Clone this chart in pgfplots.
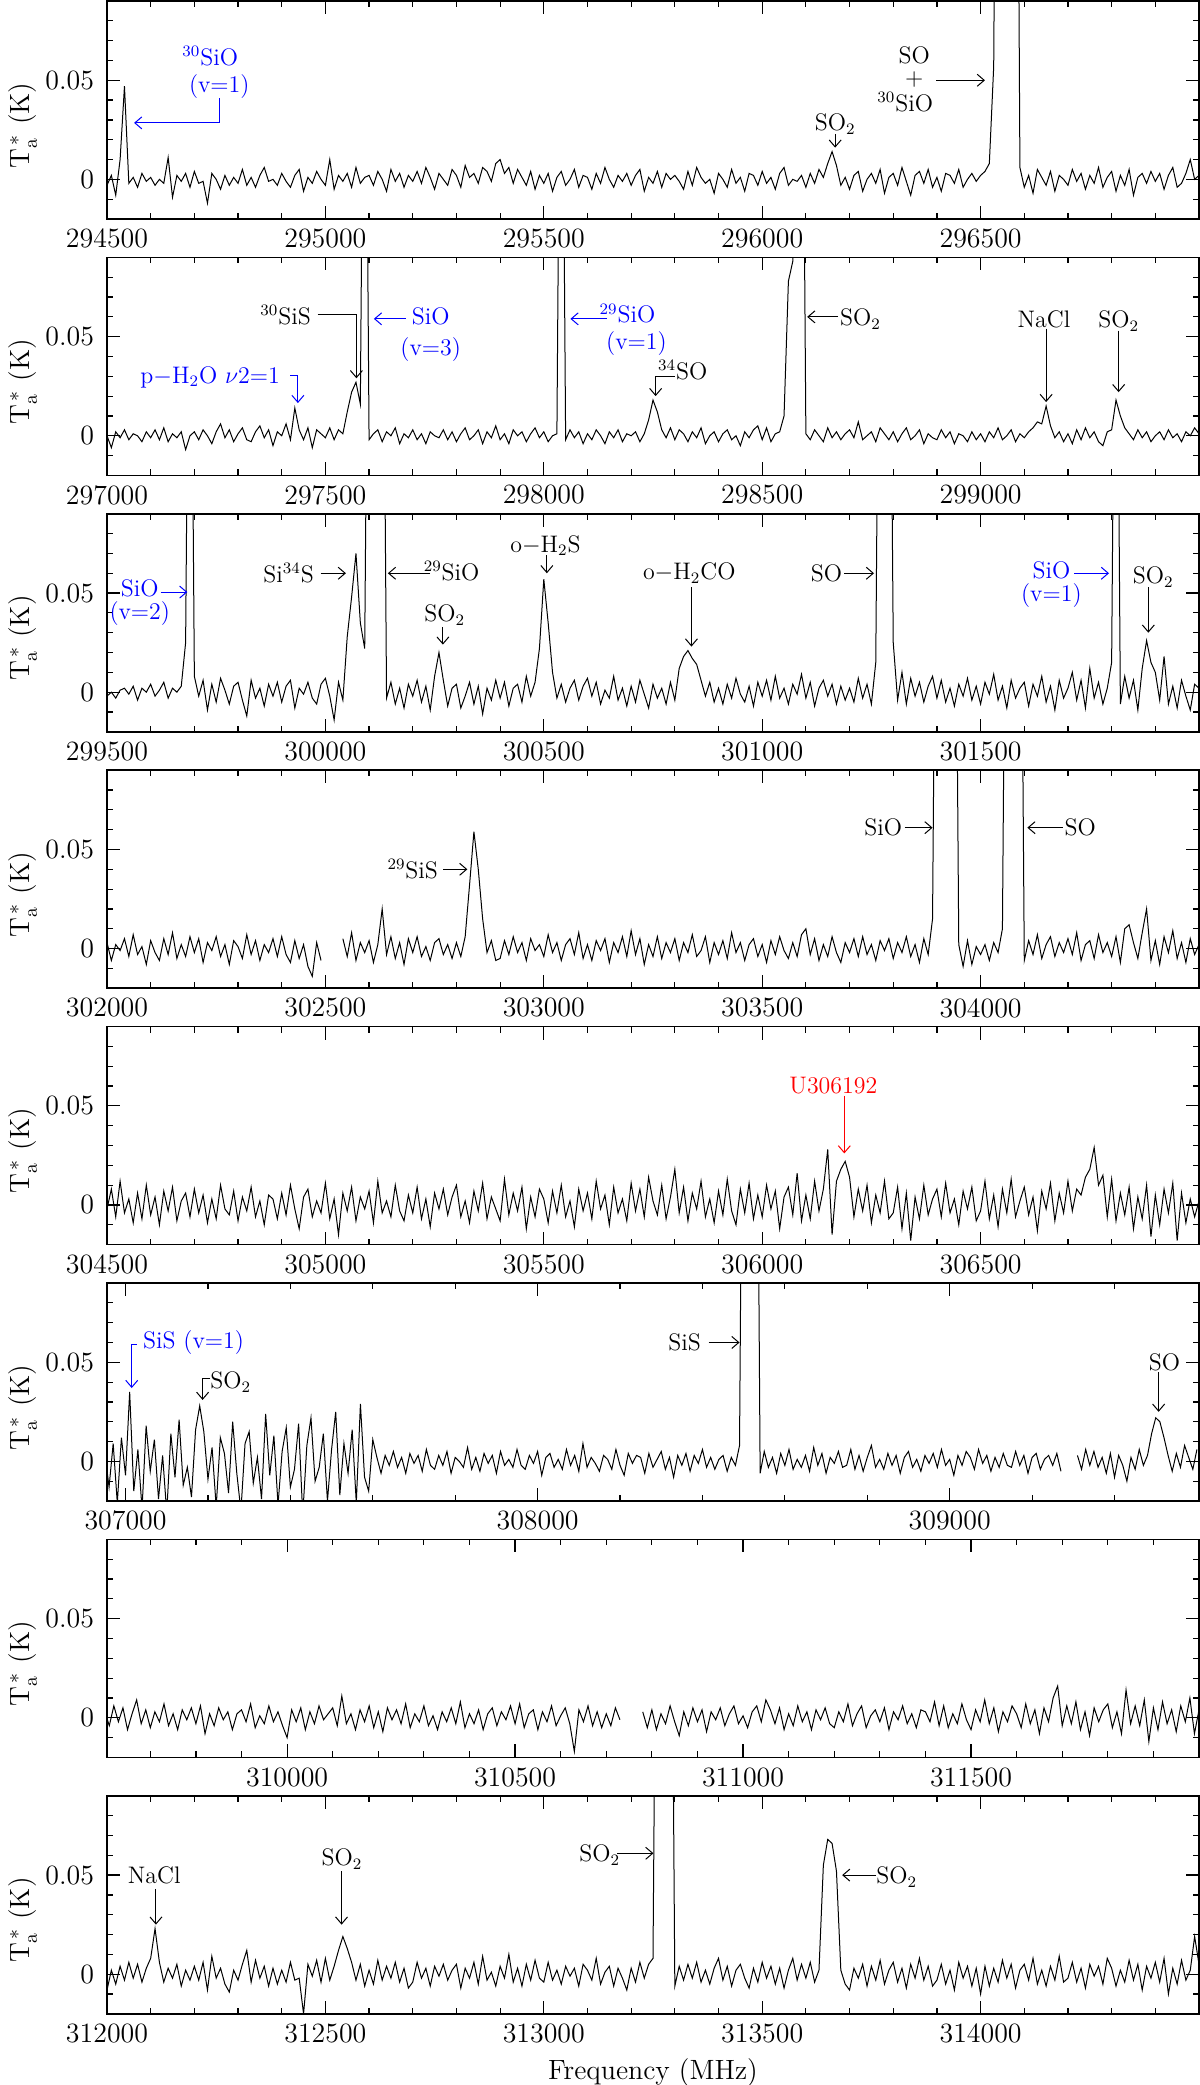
\documentclass[border=0pt]{standalone}
\usepackage{fontspec}
\usepackage{pgfplots}
\pgfplotsset{compat=1.18}
\usetikzlibrary{arrows.meta}

\pgfplotsset{
  panel/.style={
    width=546bp, height=109bp, scale only axis,
    anchor=north west,
    ymin=-20, ymax=90,
    ytick={0,50}, yticklabels={0,0.05},
    minor ytick={-10,10,20,30,40,60,70,80},
    tick align=inside,
    major tick length=6.5bp, minor tick length=3bp,
    every tick/.append style={line width=0.6bp, black},
    axis line style={line width=0.8bp},
    tick label style={font=\fontsize{14}{16}\selectfont},
    xticklabel style={yshift=-1.5bp},
    yticklabel style={xshift=-3bp},
    scaled x ticks=false,
    every axis y label/.style={at={(axis description cs:-0.077,0.43)},rotate=90,anchor=center,inner sep=0pt,font=\fontsize{14}{16}\selectfont},
    ylabel={T$_{\mathrm{a}}^{\,*}$\ (K)},
    unbounded coords=jump,
    clip mode=individual,
  },
  spec/.style={black, line width=0.5bp, sharp plot, no markers},
}

\begin{document}
\begin{tikzpicture}[lbl/.style={font=\fontsize{12}{14}\selectfont, inner sep=0pt},
  ar/.style={-{Straight Barb[length=3.5bp,width=6bp]}, line width=0.5bp}]
\useasboundingbox (0,0) rectangle (600bp,-1042.5bp);

% ---------------- Panel 1 ----------------
\begin{axis}[panel, at={(53.5bp,-0.5bp)}, xmin=294500, xmax=297000,
  xtick={294500,295000,295500,296000,296500},
  xticklabels={294500,295000,295500,296000,296500},
  minor xtick={294600,294700,294800,294900,295100,295200,295300,295400,295600,295700,295800,295900,296100,296200,296300,296400,296600,296700,296800,296900}]
\addplot[spec] table[row sep=\\, header=false, x expr=294500+10*\coordindex, y index=0] {
-3\\ 2\\ -8\\ 10\\ 47\\ -2\\ 1\\ -4\\ 3\\ -1\\
1\\ -3\\ 0\\ -2\\ 11\\ -9\\ 2\\ -1\\ 3\\ -4\\
4\\ -2\\ -1\\ -12\\ 3\\ 0\\ -5\\ 2\\ -3\\ 1\\
-2\\ 5\\ -3\\ 1\\ -4\\ 2\\ 6\\ -1\\ 0\\ -3\\
3\\ -1\\ -4\\ 2\\ 5\\ -6\\ 1\\ -2\\ 4\\ 0\\
-3\\ 10\\ -5\\ 2\\ -1\\ 3\\ -4\\ 6\\ -2\\ 1\\
2\\ -3\\ 4\\ 0\\ -6\\ 5\\ -1\\ 3\\ -4\\ 2\\
-1\\ 4\\ -2\\ 6\\ 1\\ -5\\ 3\\ 0\\ -3\\ 5\\
2\\ -4\\ 7\\ 1\\ 3\\ -2\\ 6\\ 4\\ -1\\ 8\\
10\\ 3\\ 6\\ -2\\ 5\\ 1\\ -3\\ 4\\ -5\\ 2\\
-2\\ 3\\ -6\\ 1\\ 4\\ -3\\ 0\\ 5\\ -4\\ 2\\
1\\ -5\\ 3\\ -2\\ 6\\ 0\\ -4\\ 2\\ -1\\ 3\\
-3\\ 2\\ 5\\ -6\\ 1\\ -2\\ 4\\ -4\\ 3\\ 0\\
2\\ -1\\ -5\\ 4\\ -3\\ 6\\ 1\\ -2\\ 0\\ -7\\
3\\ 0\\ -4\\ 5\\ -2\\ 1\\ -6\\ 3\\ 2\\ -3\\
4\\ -2\\ 1\\ -5\\ 3\\ 6\\ -3\\ 0\\ -1\\ 2\\
-4\\ 3\\ -2\\ 5\\ 1\\ 8\\ 14\\ 7\\ -3\\ 1\\
-5\\ 2\\ 4\\ -6\\ 0\\ 3\\ -2\\ 5\\ -7\\ 1\\
3\\ -3\\ 6\\ -1\\ -8\\ 2\\ 4\\ -2\\ 5\\ -4\\
1\\ -6\\ 3\\ 2\\ -2\\ 5\\ -4\\ 0\\ 3\\ -1\\
2\\ 4\\ 8\\ 57\\ 400\\ 400\\ 400\\ 400\\ 400\\ 6\\
-4\\ 2\\ -7\\ 5\\ 1\\ -3\\ 4\\ -6\\ 2\\ 0\\
-3\\ 5\\ -1\\ 3\\ -5\\ 2\\ -2\\ 6\\ -4\\ 1\\
4\\ -6\\ 2\\ -3\\ 5\\ -8\\ 1\\ 3\\ -2\\ 4\\
-1\\ 3\\ -5\\ 2\\ 6\\ -4\\ -2\\ 3\\ 10\\ 0\\
2\\
};
\node[lbl,blue,align=center] at (axis cs:294757,54) {\llap{$^{30}$}SiO\\[-0.5bp](v$=$1)};
\draw[ar,blue] (axis cs:294758,41) -- (axis cs:294758,28.5) -- (axis cs:294562,28.5);
\node[lbl,align=center] at (axis cs:296348,50.5) {SO\\[-3bp]+\\[-1bp]\llap{$^{30}$}SiO};
\draw[ar] (axis cs:296398,50) -- (axis cs:296510,50);
\node[lbl] at (axis cs:296167,28) {SO$_2$};
\draw[ar] (axis cs:296167,23) -- (axis cs:296167,16);
\end{axis}

% ---------------- Panel 2 ----------------
\begin{axis}[panel, at={(53.5bp,-128.7bp)}, xmin=297000, xmax=299500,
  xtick={297000,297500,298000,298500,299000},
  xticklabels={297000,297500,298000,298500,299000},
  minor xtick={297100,297200,297300,297400,297600,297700,297800,297900,298100,298200,298300,298400,298600,298700,298800,298900,299100,299200,299300,299400}]
\addplot[spec] table[row sep=\\, header=false, x expr=297000+10*\coordindex, y index=0] {
0\\ -6\\ 2\\ -1\\ 3\\ -2\\ 1\\ 0\\ -3\\ 2\\
-1\\ 3\\ -2\\ 4\\ -3\\ 1\\ -1\\ 2\\ -7\\ 0\\
2\\ -2\\ 3\\ 0\\ -4\\ 2\\ 6\\ -1\\ 3\\ -3\\
1\\ 4\\ -2\\ -3\\ 2\\ 5\\ -1\\ 3\\ -5\\ 2\\
0\\ 6\\ -2\\ 14\\ 3\\ -2\\ 4\\ -6\\ 3\\ 1\\
-1\\ 4\\ -2\\ 3\\ 1\\ 12\\ 22\\ 27\\ 16\\ 300\\
-2\\ 1\\ 3\\ -3\\ 2\\ 0\\ 4\\ -4\\ 1\\ -1\\
3\\ -2\\ 1\\ -4\\ 2\\ 0\\ -1\\ 3\\ -2\\ 2\\
-3\\ 1\\ 4\\ -2\\ 0\\ 3\\ -4\\ 2\\ -1\\ 5\\
-2\\ 1\\ -4\\ 3\\ 0\\ 2\\ -3\\ 1\\ 4\\ -1\\
2\\ -3\\ 0\\ 1\\ 300\\ -2\\ 3\\ -1\\ 2\\ -4\\
1\\ -2\\ 3\\ 0\\ -4\\ 2\\ -1\\ 3\\ -3\\ 1\\
0\\ 2\\ -3\\ 1\\ 8\\ 18\\ 12\\ 3\\ -1\\ 4\\
-2\\ 3\\ 1\\ -3\\ 2\\ -1\\ 4\\ -4\\ 0\\ 2\\
-3\\ 1\\ 3\\ -2\\ 0\\ -5\\ 2\\ -1\\ 3\\ 5\\
-2\\ 4\\ -3\\ 1\\ 2\\ 10\\ 78\\ 88\\ 300\\ 300\\
1\\ -2\\ 3\\ 0\\ -3\\ 4\\ -1\\ 2\\ -2\\ 1\\
3\\ -1\\ 7\\ -2\\ 0\\ 2\\ -3\\ 4\\ 1\\ -2\\
2\\ -3\\ 1\\ 4\\ -2\\ 0\\ 3\\ -4\\ 1\\ -1\\
-2\\ 3\\ -1\\ 2\\ -4\\ 1\\ 0\\ -3\\ 2\\ -2\\
1\\ -3\\ 2\\ -1\\ 4\\ -2\\ 0\\ 3\\ -3\\ 1\\
-1\\ 2\\ 4\\ 7\\ 6\\ 15\\ 5\\ -1\\ 2\\ -3\\
1\\ -4\\ 3\\ -2\\ 4\\ -1\\ 2\\ -3\\ -5\\ 2\\
3\\ 18\\ 10\\ 4\\ 1\\ -2\\ 3\\ -1\\ 2\\ -3\\
0\\ 2\\ -2\\ 3\\ -1\\ 1\\ -3\\ 2\\ 0\\ 4\\
1\\
};
\node[lbl,blue] at (axis cs:297236,29.5) {p$-$H$_2$O $\nu$2$=$1};
\draw[ar,blue] (axis cs:297420,30.5) -- (axis cs:297437,30.5) -- (axis cs:297437,16.5);
\node[lbl] at (axis cs:297409,61) {$^{30}$SiS};
\draw[ar] (axis cs:297482,61) -- (axis cs:297571,61) -- (axis cs:297571,29);
\draw[ar,blue] (axis cs:297684,59) -- (axis cs:297611,59);
\node[lbl,blue,align=center] at (axis cs:297741,51) {SiO\\[1.5bp](v$=$3)};
\draw[ar,blue] (axis cs:298144,59) -- (axis cs:298061,59);
\node[lbl,blue,align=center] at (axis cs:298212,53.5) {\llap{$^{29}$}SiO\\[-0.5bp](v$=$1)};
\node[lbl] at (axis cs:298318,33) {$^{34}$SO};
\draw[ar] (axis cs:298300,30) -- (axis cs:298256,30) -- (axis cs:298256,20);
\draw[ar] (axis cs:298674,60) -- (axis cs:298603,60);
\node[lbl] at (axis cs:298725,59) {SO$_2$};
\node[lbl] at (axis cs:299145,58.5) {NaCl};
\draw[ar] (axis cs:299150,54) -- (axis cs:299150,17);
\node[lbl] at (axis cs:299316,58) {SO$_2$};
\draw[ar] (axis cs:299316,53) -- (axis cs:299316,22);
\end{axis}

% ---------------- Panel 3 ----------------
\begin{axis}[panel, at={(53.5bp,-256.9bp)}, xmin=299500, xmax=302000,
  xtick={299500,300000,300500,301000,301500},
  xticklabels={299500,300000,300500,301000,301500},
  minor xtick={299600,299700,299800,299900,300100,300200,300300,300400,300600,300700,300800,300900,301100,301200,301300,301400,301600,301700,301800,301900}]
\addplot[spec] table[row sep=\\, header=false, x expr=299500+10*\coordindex, y index=0] {
-2\\ 0\\ -3\\ 1\\ 2\\ -1\\ 3\\ -4\\ 2\\ 0\\
4\\ -2\\ 1\\ 5\\ -3\\ 2\\ 0\\ 3\\ 25\\ 300\\
8\\ -2\\ 6\\ -9\\ 4\\ -5\\ 7\\ 1\\ -6\\ 3\\
5\\ -4\\ -12\\ 6\\ -3\\ 2\\ -7\\ 4\\ -2\\ 5\\
-5\\ 3\\ 6\\ -8\\ 2\\ -1\\ 5\\ -3\\ -6\\ 4\\
7\\ -2\\ -14\\ 5\\ -4\\ 28\\ 48\\ 70\\ 35\\ 22\\
300\\ 300\\ 300\\ 300\\ -3\\ 5\\ -6\\ 2\\ -8\\ 4\\
-2\\ 6\\ -5\\ 3\\ -9\\ 8\\ 20\\ 6\\ -7\\ 2\\
4\\ -8\\ -2\\ 5\\ -6\\ 3\\ -11\\ 2\\ -4\\ 6\\
-3\\ 5\\ -7\\ 2\\ 4\\ -5\\ 8\\ -2\\ 5\\ 22\\
57\\ 35\\ 10\\ -3\\ 4\\ -5\\ 2\\ 6\\ -4\\ 3\\
7\\ -2\\ 5\\ -6\\ 1\\ -3\\ 8\\ -4\\ 2\\ -7\\
3\\ -5\\ 6\\ -1\\ -8\\ 4\\ -3\\ 2\\ -6\\ 5\\
-4\\ 12\\ 18\\ 21\\ 17\\ 14\\ 6\\ -2\\ 5\\ -5\\
2\\ -6\\ 4\\ -3\\ 7\\ -1\\ -5\\ 3\\ -7\\ 5\\
-2\\ 6\\ -4\\ 8\\ -3\\ 2\\ -6\\ 4\\ -1\\ 9\\
-3\\ 5\\ -7\\ 2\\ 6\\ -2\\ 4\\ -6\\ 3\\ -4\\
2\\ -5\\ 7\\ -3\\ 4\\ -6\\ 15\\ 300\\ 300\\ 300\\
25\\ -4\\ 10\\ -6\\ 7\\ -2\\ 5\\ -5\\ 3\\ 8\\
-3\\ 6\\ -5\\ 2\\ -7\\ 4\\ -2\\ 7\\ -4\\ 3\\
-6\\ 5\\ -1\\ 9\\ -4\\ 3\\ -8\\ 6\\ -3\\ 2\\
5\\ -7\\ 4\\ -2\\ 8\\ -5\\ 3\\ -9\\ 6\\ -3\\
2\\ 10\\ -4\\ 6\\ -8\\ 12\\ -3\\ 5\\ -6\\ 2\\
15\\ 300\\ -6\\ 8\\ -3\\ 6\\ -9\\ 12\\ 26\\ 15\\
10\\ -4\\ 18\\ -6\\ 3\\ -8\\ 6\\ -2\\ -9\\ 4\\
2\\
};
\node[lbl,blue,align=center] at (axis cs:299575,45) {SiO\\[-2.5bp](v$=$2)};
\draw[ar,blue] (axis cs:299623,50.5) -- (axis cs:299684,50.5);
\node[lbl] at (axis cs:299916,60) {Si$^{34}$S};
\draw[ar] (axis cs:299989,60) -- (axis cs:300047,60);
\draw[ar] (axis cs:300240,60) -- (axis cs:300143,60);
\node[lbl] at (axis cs:300289,61) {$^{29}$SiO};
\node[lbl] at (axis cs:300273,39) {SO$_2$};
\draw[ar] (axis cs:300269,33) -- (axis cs:300269,24);
\node[lbl] at (axis cs:300504,74) {o$-$H$_2$S};
\draw[ar] (axis cs:300507,69) -- (axis cs:300507,60);
\node[lbl] at (axis cs:300833,60) {o$-$H$_2$CO};
\draw[ar] (axis cs:300838,53) -- (axis cs:300838,23);
\node[lbl] at (axis cs:301147,60) {SO};
\draw[ar] (axis cs:301188,60) -- (axis cs:301256,60);
\node[lbl,blue,align=center] at (axis cs:301662,54.5) {SiO\\[-2.5bp](v$=$1)};
\draw[ar,blue] (axis cs:301714,60) -- (axis cs:301794,60);
\node[lbl] at (axis cs:301895,58) {SO$_2$};
\draw[ar] (axis cs:301884,53) -- (axis cs:301884,30);
\end{axis}

% ---------------- Panel 4 ----------------
\begin{axis}[panel, at={(53.5bp,-385.1bp)}, xmin=302000, xmax=304500,
  xtick={302000,302500,303000,303500,304000},
  xticklabels={302000,302500,303000,303500,304000},
  minor xtick={302100,302200,302300,302400,302600,302700,302800,302900,303100,303200,303300,303400,303600,303700,303800,303900,304100,304200,304300,304400}]
\addplot[spec] table[row sep=\\, header=false, x expr=302000+10*\coordindex, y index=0] {
3\\ -6\\ 2\\ -1\\ 5\\ -4\\ 7\\ -3\\ 1\\ -8\\
4\\ -2\\ -6\\ 5\\ -3\\ 8\\ -5\\ 2\\ -4\\ 6\\
-2\\ 5\\ -7\\ 3\\ -1\\ 6\\ -4\\ 2\\ -8\\ 4\\
1\\ -5\\ 7\\ -3\\ 4\\ -6\\ 2\\ -2\\ 5\\ -4\\
6\\ -3\\ -7\\ 4\\ -5\\ 2\\ -9\\ -14\\ 3\\ -6\\
nan\\ nan\\ nan\\ nan\\ 5\\ -4\\ 8\\ -6\\ 3\\ -2\\
4\\ -7\\ 2\\ 20\\ -3\\ 6\\ -5\\ 3\\ -8\\ 5\\
-2\\ 6\\ -4\\ 1\\ -6\\ 3\\ 5\\ -3\\ 2\\ -5\\
3\\ -4\\ 6\\ 32\\ 59\\ 40\\ 15\\ -2\\ 4\\ -6\\
-5\\ 4\\ -3\\ 6\\ -2\\ 3\\ -6\\ 5\\ -1\\ 2\\
-4\\ 7\\ -2\\ 3\\ -6\\ 2\\ 5\\ -3\\ 8\\ -5\\
2\\ -6\\ 4\\ -1\\ 5\\ -7\\ 3\\ -2\\ 6\\ -4\\
9\\ -3\\ 5\\ -8\\ 2\\ -4\\ 6\\ -5\\ 3\\ -2\\
5\\ -6\\ 3\\ -2\\ 7\\ -4\\ -1\\ 6\\ -7\\ 3\\
-3\\ 4\\ -5\\ 8\\ -2\\ 3\\ -6\\ 2\\ 5\\ -4\\
2\\ -7\\ 4\\ -3\\ 6\\ -1\\ -5\\ 3\\ -4\\ 7\\
10\\ -3\\ 5\\ -6\\ 2\\ -4\\ 6\\ -2\\ -7\\ 3\\
-2\\ 5\\ -4\\ 6\\ -3\\ 2\\ -6\\ 4\\ -1\\ 5\\
-5\\ 3\\ -2\\ 6\\ -4\\ 2\\ -7\\ 5\\ -3\\ 15\\
300\\ 300\\ 300\\ 300\\ 300\\ 2\\ -9\\ 4\\ -8\\ 1\\
-3\\ 2\\ -6\\ 3\\ -2\\ 10\\ 300\\ 300\\ 300\\ 300\\
-6\\ 4\\ -3\\ 7\\ -5\\ 2\\ 6\\ -4\\ 3\\ -2\\
5\\ -3\\ 8\\ -6\\ 2\\ 4\\ -5\\ 7\\ -2\\ 3\\
-4\\ 6\\ -7\\ 10\\ 12\\ 3\\ -5\\ 8\\ 20\\ -6\\
4\\ -8\\ 6\\ -2\\ 9\\ -5\\ 3\\ -7\\ 5\\ -3\\
2\\
};
\node[lbl] at (axis cs:302700,40) {$^{29}$SiS};
\draw[ar] (axis cs:302770,40) -- (axis cs:302825,40);
\node[lbl] at (axis cs:303777,61) {SiO};
\draw[ar] (axis cs:303826,61) -- (axis cs:303890,61);
\draw[ar] (axis cs:304188,61) -- (axis cs:304107,61);
\node[lbl] at (axis cs:304228,61) {SO};
\end{axis}

% ---------------- Panel 5 ----------------
\begin{axis}[panel, at={(53.5bp,-513.3bp)}, xmin=304500, xmax=307000,
  xtick={304500,305000,305500,306000,306500},
  xticklabels={304500,305000,305500,306000,306500},
  minor xtick={304600,304700,304800,304900,305100,305200,305300,305400,305600,305700,305800,305900,306100,306200,306300,306400,306600,306700,306800,306900}]
\addplot[spec] table[row sep=\\, header=false, x expr=304500+10*\coordindex, y index=0] {
-2\\ 8\\ -6\\ 12\\ -4\\ 3\\ -9\\ 6\\ -7\\ 10\\
-5\\ 4\\ -10\\ 7\\ -3\\ 9\\ -8\\ 2\\ 6\\ -6\\
8\\ -4\\ 5\\ -9\\ 3\\ -7\\ 10\\ -2\\ -5\\ 7\\
-8\\ 4\\ -3\\ 9\\ -6\\ 2\\ -10\\ 5\\ 3\\ -7\\
6\\ -5\\ 10\\ -2\\ -12\\ 4\\ 8\\ -6\\ 2\\ -4\\
11\\ -7\\ 3\\ -15\\ 6\\ -3\\ 9\\ -8\\ 4\\ -2\\
7\\ -9\\ 12\\ -4\\ 2\\ -6\\ 10\\ -3\\ -8\\ 5\\
-4\\ 9\\ -7\\ 3\\ -11\\ 6\\ -2\\ 8\\ -5\\ 4\\
10\\ -6\\ 2\\ -9\\ 7\\ -3\\ 11\\ -7\\ 4\\ -2\\
-8\\ 13\\ -5\\ 6\\ -3\\ 9\\ -12\\ 4\\ -6\\ 8\\
3\\ -9\\ 7\\ -4\\ 10\\ -6\\ 2\\ -11\\ 8\\ -3\\
6\\ -7\\ 12\\ -2\\ 5\\ -10\\ 9\\ -4\\ 3\\ -8\\
11\\ -3\\ 8\\ -6\\ 14\\ 2\\ -5\\ 10\\ -7\\ 4\\
18\\ -4\\ 9\\ -8\\ 6\\ -2\\ 12\\ -6\\ 3\\ -9\\
7\\ -5\\ 13\\ -3\\ -10\\ 8\\ -4\\ 11\\ -7\\ 5\\
-6\\ 10\\ -2\\ 7\\ -12\\ 4\\ 9\\ -5\\ 16\\ -8\\
5\\ -7\\ 12\\ -3\\ 8\\ 28\\ -15\\ 12\\ 18\\ 22\\
14\\ -6\\ 8\\ -3\\ 10\\ -9\\ 5\\ -4\\ 12\\ -7\\
-4\\ 9\\ -12\\ 6\\ -18\\ 4\\ -7\\ 10\\ -5\\ 3\\
8\\ -6\\ 11\\ -4\\ 3\\ -10\\ 7\\ -2\\ 9\\ -8\\
-3\\ 12\\ -7\\ 5\\ -11\\ 8\\ -4\\ 13\\ -6\\ 2\\
9\\ -5\\ 4\\ -13\\ 7\\ -2\\ 11\\ -8\\ 6\\ -4\\
12\\ -3\\ 8\\ 5\\ 14\\ 18\\ 29\\ 10\\ 15\\ -6\\
13\\ -8\\ 6\\ -5\\ 9\\ -12\\ 4\\ -7\\ 10\\ -16\\
5\\ -10\\ 8\\ -4\\ 11\\ -18\\ 6\\ -9\\ 3\\ -6\\
2\\
};
\node[lbl,red] at (axis cs:306163,60) {U306192};
\draw[ar,red] (axis cs:306188,55) -- (axis cs:306188,26);
\end{axis}

% ---------------- Panel 6 ----------------
\begin{axis}[panel, at={(53.5bp,-641.5bp)}, xmin=306955, xmax=309605,
  xtick={307000,308000,309000},
  xticklabels={307000,308000,309000},
  minor xtick={307200,307400,307600,307800,308200,308400,308600,308800,309200,309400}]
\addplot[spec] table[row sep=\\, header=false, x expr=306950+10*\coordindex, y index=0] {
4\\ -13\\ 9\\ -21\\ 12\\ -7\\ 35\\ -15\\ 6\\ -24\\
18\\ -5\\ 11\\ -19\\ 3\\ -26\\ 14\\ -8\\ 21\\ -12\\
-3\\ -18\\ 16\\ 28\\ 15\\ -9\\ 7\\ -23\\ 12\\ 4\\
-16\\ 20\\ -6\\ -25\\ 9\\ 15\\ -11\\ 2\\ -19\\ 24\\
-7\\ 13\\ -22\\ 5\\ 17\\ -13\\ -4\\ 19\\ -27\\ 8\\
22\\ -10\\ -3\\ 14\\ -20\\ 6\\ 25\\ -17\\ 9\\ -6\\
16\\ -21\\ 29\\ -8\\ -15\\ 11\\ 2\\ -6\\ 3\\ -2\\
5\\ -3\\ 2\\ -6\\ 4\\ -1\\ 3\\ -5\\ 6\\ -2\\
-4\\ 3\\ -2\\ 5\\ -6\\ 2\\ 0\\ -3\\ 7\\ -4\\
2\\ -5\\ 4\\ -1\\ 3\\ -6\\ 5\\ -2\\ 1\\ -3\\
6\\ -2\\ -4\\ 3\\ -1\\ 5\\ -7\\ 2\\ 4\\ -3\\
1\\ -4\\ 6\\ -2\\ 3\\ -5\\ 9\\ -3\\ 2\\ -1\\
-5\\ 3\\ 1\\ -4\\ 6\\ -2\\ -7\\ 4\\ -1\\ 3\\
2\\ -6\\ 4\\ -3\\ 1\\ 5\\ -4\\ 2\\ -8\\ 3\\
-2\\ 4\\ -5\\ 3\\ -1\\ 6\\ -3\\ 2\\ -4\\ 1\\
3\\ -5\\ 2\\ -2\\ 8\\ 300\\ 300\\ 300\\ 300\\ -6\\
5\\ -3\\ 2\\ -6\\ 4\\ -2\\ 6\\ -4\\ 1\\ -3\\
3\\ -5\\ 7\\ -2\\ 4\\ -6\\ 2\\ -1\\ 5\\ -3\\
-2\\ 6\\ -4\\ 3\\ -5\\ 2\\ 8\\ -3\\ 1\\ -4\\
4\\ -2\\ 3\\ -6\\ 2\\ 5\\ -3\\ 1\\ -5\\ 3\\
-1\\ 4\\ -3\\ 6\\ -2\\ 1\\ -7\\ 3\\ -2\\ 5\\
2\\ -4\\ 6\\ -1\\ 3\\ -5\\ 2\\ -3\\ 4\\ -2\\
-3\\ 5\\ -2\\ 3\\ -6\\ 2\\ 4\\ -4\\ 1\\ 3\\
-2\\ 4\\ -5\\ nan\\ nan\\ nan\\ 3\\ -4\\ 6\\ -2\\
5\\ -3\\ 2\\ -6\\ 4\\ -8\\ 3\\ -2\\ -10\\ 2\\
-4\\ 6\\ -2\\ 3\\ 14\\ 22\\ 20\\ 12\\ 3\\ -5\\
4\\ -3\\ 8\\ 2\\ -4\\ 6\\
};
\node[lbl,blue] at (axis cs:307165,60) {SiS (v$=$1)};
\draw[ar,blue] (axis cs:307027,59) -- (axis cs:307015,59) -- (axis cs:307015,37);
\node[lbl] at (axis cs:307255,40) {SO$_2$};
\draw[ar] (axis cs:307205,42) -- (axis cs:307187,42) -- (axis cs:307187,31);
\node[lbl] at (axis cs:308357,60) {SiS};
\draw[ar] (axis cs:308415,60) -- (axis cs:308490,60);
\node[lbl] at (axis cs:309521,50) {SO};
\draw[ar] (axis cs:309507,45) -- (axis cs:309507,25);
\end{axis}

% ---------------- Panel 7 ----------------
\begin{axis}[panel, at={(53.5bp,-769.7bp)}, xmin=309605, xmax=312000,
  xtick={310000,310500,311000,311500},
  xticklabels={310000,310500,311000,311500},
  minor xtick={309700,309800,309900,310100,310200,310300,310400,310600,310700,310800,310900,311100,311200,311300,311400,311600,311700,311800,311900}]
\addplot[spec] table[row sep=\\, header=false, x expr=309600+10*\coordindex, y index=0] {
3\\ -4\\ 6\\ -2\\ 5\\ -6\\ 2\\ 9\\ -3\\ 4\\
-5\\ 3\\ -2\\ 7\\ -4\\ 2\\ -6\\ 4\\ -1\\ 5\\
-3\\ 6\\ -8\\ 2\\ -4\\ 5\\ -1\\ 3\\ -6\\ 2\\
4\\ -2\\ 7\\ -5\\ 1\\ -3\\ 6\\ -2\\ 3\\ -4\\
-10\\ 4\\ -2\\ 5\\ -6\\ 3\\ -3\\ 6\\ -1\\ 2\\
5\\ -4\\ 11\\ -3\\ 2\\ -6\\ 4\\ -2\\ 6\\ -5\\
3\\ -7\\ 5\\ -1\\ 4\\ -3\\ 7\\ -5\\ 2\\ -2\\
6\\ -4\\ 1\\ -6\\ 3\\ -2\\ 5\\ -3\\ 8\\ -5\\
2\\ -3\\ 4\\ -6\\ 2\\ 5\\ -4\\ 3\\ -1\\ 6\\
-3\\ 7\\ -5\\ 2\\ 4\\ -6\\ 3\\ -2\\ 6\\ -4\\
1\\ 5\\ -3\\ -17\\ 4\\ -2\\ 6\\ -4\\ 3\\ -5\\
2\\ -4\\ 5\\ -1\\ nan\\ nan\\ nan\\ nan\\ 3\\ -5\\
4\\ -6\\ 2\\ -3\\ 6\\ -2\\ -9\\ 3\\ -4\\ 5\\
-2\\ 4\\ -7\\ 3\\ -1\\ 5\\ -4\\ 2\\ 6\\ -3\\
1\\ -5\\ 3\\ 6\\ -2\\ 9\\ 4\\ -3\\ 5\\ -6\\
2\\ -4\\ 6\\ -2\\ 3\\ -6\\ 4\\ -1\\ 5\\ -3\\
-5\\ 3\\ -2\\ 7\\ -4\\ 2\\ 6\\ -5\\ 1\\ 4\\
-2\\ 5\\ -6\\ 3\\ -1\\ 6\\ -3\\ 2\\ -5\\ 4\\
3\\ -2\\ 8\\ -4\\ 6\\ -5\\ 2\\ -3\\ 7\\ -1\\
-6\\ 4\\ -2\\ 9\\ -3\\ 5\\ -7\\ 3\\ -2\\ 6\\
2\\ -5\\ 7\\ -3\\ 4\\ -8\\ 5\\ -2\\ 10\\ 16\\
-4\\ 6\\ -3\\ 8\\ -6\\ 3\\ -9\\ 5\\ -2\\ 4\\
7\\ -5\\ 3\\ -8\\ 14\\ -3\\ 6\\ -4\\ 9\\ -12\\
5\\ -6\\ 8\\ -3\\ 4\\ -7\\ 6\\ -2\\ 10\\ -8\\
4\\
};
\end{axis}

% ---------------- Panel 8 ----------------
\begin{axis}[panel, at={(53.5bp,-897.9bp)}, xmin=312000, xmax=314500,
  xtick={312000,312500,313000,313500,314000},
  xticklabels={312000,312500,313000,313500,314000},
  minor xtick={312100,312200,312300,312400,312600,312700,312800,312900,313100,313200,313300,313400,313600,313700,313800,313900,314100,314200,314300,314400},
  xlabel={Frequency (MHz)},
  every axis x label/.style={at={(axis description cs:0.5,0)},anchor=center,yshift=-29.5bp,font=\fontsize{14}{16}\selectfont}]
\addplot[spec] table[row sep=\\, header=false, x expr=312000+10*\coordindex, y index=0] {
-8\\ 2\\ -5\\ 4\\ -3\\ 6\\ -2\\ 5\\ -4\\ 3\\
8\\ 23\\ 6\\ -4\\ 3\\ -2\\ 5\\ -6\\ 2\\ -3\\
4\\ -3\\ 6\\ -8\\ 9\\ -2\\ 3\\ -5\\ -9\\ 2\\
-3\\ 5\\ 12\\ -4\\ 7\\ -2\\ 4\\ -6\\ 3\\ -5\\
2\\ -4\\ 6\\ -3\\ -2\\ -20\\ 5\\ -1\\ 7\\ -4\\
8\\ -3\\ 4\\ 12\\ 19\\ 13\\ 6\\ -3\\ 5\\ -6\\
2\\ -5\\ 7\\ -3\\ 4\\ -2\\ 6\\ -4\\ 3\\ -7\\
-4\\ 6\\ -2\\ 3\\ -6\\ 4\\ -1\\ 5\\ -3\\ 2\\
5\\ -7\\ 3\\ -2\\ 6\\ -5\\ 9\\ -3\\ 1\\ -6\\
4\\ -2\\ 10\\ -4\\ 3\\ -6\\ 5\\ -3\\ 7\\ -2\\
-4\\ 6\\ -3\\ 2\\ -5\\ 4\\ -1\\ 3\\ -6\\ 5\\
2\\ -3\\ 8\\ -5\\ 1\\ 4\\ -6\\ 3\\ -2\\ -8\\
3\\ -4\\ 6\\ -2\\ 5\\ 8\\ 300\\ 300\\ 300\\ 300\\
-6\\ 4\\ -3\\ 5\\ -2\\ 6\\ -4\\ 2\\ -5\\ 3\\
8\\ -3\\ 4\\ -6\\ 2\\ 5\\ -2\\ -7\\ 3\\ -4\\
6\\ -2\\ 4\\ -5\\ 3\\ -7\\ 2\\ 8\\ -3\\ 5\\
-2\\ 6\\ -4\\ 2\\ 55\\ 68\\ 66\\ 52\\ 2\\ -5\\
-8\\ 3\\ -2\\ 5\\ -6\\ 4\\ -3\\ 7\\ -5\\ 2\\
6\\ -4\\ 3\\ -7\\ 5\\ -2\\ 8\\ -3\\ 4\\ -6\\
-3\\ 5\\ -5\\ 2\\ -8\\ 6\\ -2\\ 4\\ -6\\ 3\\
-10\\ 4\\ -6\\ 3\\ -4\\ 7\\ -2\\ 5\\ -7\\ 2\\
5\\ -3\\ 8\\ -5\\ 2\\ -6\\ 4\\ -3\\ 9\\ -4\\
-2\\ 6\\ -4\\ 3\\ -7\\ 5\\ -1\\ 4\\ -5\\ 8\\
3\\ -6\\ 2\\ -4\\ 7\\ -3\\ 5\\ -8\\ 4\\ -2\\
6\\ -4\\ 8\\ -10\\ 3\\ -5\\ 7\\ -3\\ 2\\ 19\\
5\\
};
\node[lbl] at (axis cs:312108,50) {NaCl};
\draw[ar] (axis cs:312112,43) -- (axis cs:312112,25);
\node[lbl] at (axis cs:312538,58) {SO$_2$};
\draw[ar] (axis cs:312537,52) -- (axis cs:312537,25);
\node[lbl] at (axis cs:313128,60) {SO$_2$};
\draw[ar] (axis cs:313168,61) -- (axis cs:313251,61);
\draw[ar] (axis cs:313761,50) -- (axis cs:313683,50);
\node[lbl] at (axis cs:313808,49) {SO$_2$};
\end{axis}
\end{tikzpicture}
\end{document}
